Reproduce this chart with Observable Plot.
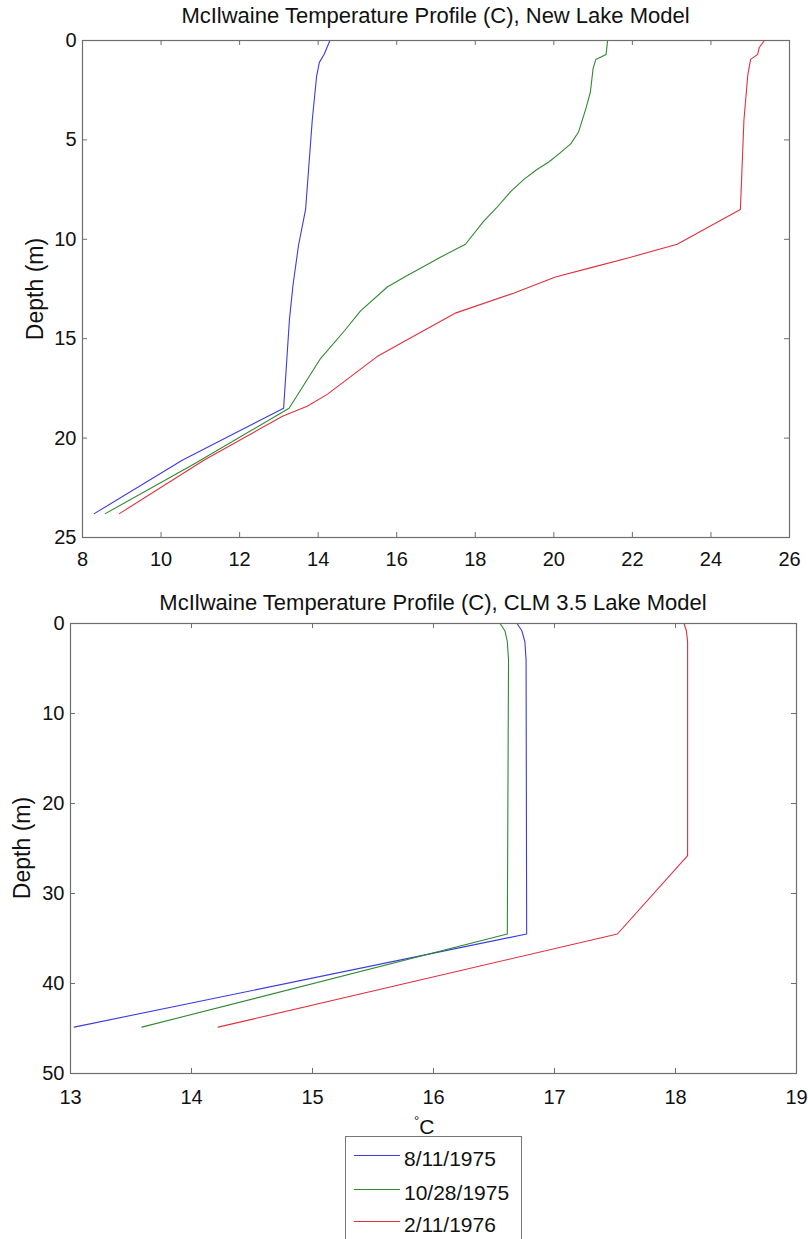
<!DOCTYPE html>
<html><head><meta charset="utf-8">
<script src="https://cdn.jsdelivr.net/npm/d3@7"></script>
<script src="https://cdn.jsdelivr.net/npm/@observablehq/plot@0.6"></script>
<style>
body{margin:0;background:#fff;font-family:"Liberation Sans",Arial,sans-serif;color:#111;}
#page{position:relative;width:808px;height:1239px;overflow:hidden;background:#fff;}
#page svg{position:absolute;left:0;}
.title{position:absolute;left:0;text-align:center;font-size:22px;line-height:22px;white-space:nowrap;}
.ylab{position:absolute;font-size:23px;line-height:23px;white-space:nowrap;transform:translate(-50%,-50%) rotate(-90deg);}
.legend{position:absolute;left:345px;top:1136px;width:175px;height:130px;border:1px solid #777;background:#fff;}
.lrow{position:absolute;left:0;width:175px;}
.lline{position:absolute;left:8px;width:46px;height:0;border-top:1.2px solid;}
.ltext{position:absolute;left:58px;font-size:21px;line-height:21px;white-space:nowrap;}
</style></head><body><div id="page"></div>
<script>
// ---- Data ----
const series = ["8/11/1975", "10/28/1975", "2/11/1976"];
const colors = ["#3b3be0", "#2f8a2f", "#e0303e"];

// New Lake Model
const newDepthBlue  = [0, 0.7, 1.1, 1.8, 4.0, 8.5, 10.3, 12.3, 14.0, 18.5, 21.1, 23.8];
const newTempBlue   = [14.30, 14.15, 14.03, 13.96, 13.85, 13.68, 13.50, 13.36, 13.27, 13.12, 10.55, 8.30];
const newDepthGreen = [0, 0.7, 0.95, 1.4, 2.6, 3.4, 4.6, 5.2, 5.7, 6.1, 6.5, 7.0, 7.6, 8.4, 9.1, 10.25, 10.85, 11.9, 12.4, 13.6, 14.6, 16.0, 18.5, 21.3, 23.8];
const newTempGreen  = [21.37, 21.33, 21.07, 21.0, 20.93, 20.82, 20.63, 20.43, 20.13, 19.88, 19.56, 19.23, 18.90, 18.55, 18.21, 17.75, 17.16, 16.20, 15.76, 15.08, 14.67, 14.06, 13.26, 10.84, 8.58];
const newDepthRed   = [0, 0.35, 0.7, 0.95, 1.7, 4.0, 8.5, 10.25, 10.9, 11.4, 11.9, 12.7, 13.7, 14.6, 15.9, 17.8, 18.4, 18.9, 21.1, 23.8];
const newTempRed    = [25.36, 25.23, 25.19, 25.01, 24.94, 24.84, 24.75, 23.14, 21.96, 21.0, 20.04, 18.99, 17.51, 16.68, 15.5, 14.23, 13.72, 13.09, 11.10, 8.94];

// CLM 3.5 Lake Model
const clmDepthBlue  = [0, 0.8, 2, 4, 34.5, 44.85];
const clmTempBlue   = [16.69, 16.73, 16.755, 16.765, 16.77, 13.03];
const clmDepthGreen = [0, 0.8, 2, 4, 34.5, 44.85];
const clmTempGreen  = [16.55, 16.59, 16.61, 16.62, 16.61, 13.59];
const clmDepthRed   = [0, 0.8, 2, 25.8, 34.5, 44.85];
const clmTempRed    = [18.07, 18.09, 18.10, 18.10, 17.52, 14.22];

// Axis ticks
const newXTicks = [8, 10, 12, 14, 16, 18, 20, 22, 24, 26];
const newYTicks = [0, 5, 10, 15, 20, 25];
const clmXTicks = [13, 14, 15, 16, 17, 18, 19];
const clmYTicks = [0, 10, 20, 30, 40, 50];

const titles = ["McIlwaine Temperature Profile (C), New Lake Model", "McIlwaine Temperature Profile (C), CLM 3.5 Lake Model"];
const yLabel = "Depth (m)";

// ---- Build tables ----
function table(groups) {
  const rows = [];
  groups.forEach(([name, depths, temps]) => depths.forEach((d, i) => rows.push({series: name, depth: d, temp: temps[i]})));
  return rows;
}
const newData = table([[series[0], newDepthBlue, newTempBlue], [series[1], newDepthGreen, newTempGreen], [series[2], newDepthRed, newTempRed]]);
const clmData = table([[series[0], clmDepthBlue, clmTempBlue], [series[1], clmDepthGreen, clmTempGreen], [series[2], clmDepthRed, clmTempRed]]);

const axisColor = "#6e6e6e";
function panel({data, xTicks, yTicks, width, height, mt, mb, ml, mr, padX}) {
  const fw = width - ml - mr, fh = height - mt - mb;
  return Plot.plot({
    width, height, marginTop: mt, marginBottom: mb, marginLeft: ml, marginRight: mr,
    style: {fontFamily: "'Liberation Sans', Arial, sans-serif", fontSize: "20px", color: "#111", background: "transparent", overflow: "visible"},
    x: {domain: [xTicks[0], xTicks[xTicks.length - 1]], label: null},
    y: {domain: [yTicks[0], yTicks[yTicks.length - 1]], reverse: true, label: null},
    color: {domain: series, range: colors},
    marks: [
      Plot.line(data, {x: "temp", y: "depth", z: "series", stroke: "series", strokeWidth: 1.1}),
      Plot.frame({stroke: axisColor, strokeWidth: 1.2}),
      Plot.tickX(xTicks, {x: d => d, stroke: axisColor, insetBottom: fh - 5}),
      Plot.tickX(xTicks, {x: d => d, stroke: axisColor, insetTop: fh - 5}),
      Plot.tickY(yTicks, {y: d => d, stroke: axisColor, insetRight: fw - 5}),
      Plot.tickY(yTicks, {y: d => d, stroke: axisColor, insetLeft: fw - 5}),
      Plot.axisX(xTicks, {anchor: "bottom", tickSize: 0, tickPadding: padX, label: null, fill: "#111", tickFormat: d => String(d)}),
      Plot.axisY(yTicks, {anchor: "left", tickSize: 0, tickPadding: 6, label: null, fill: "#111", tickFormat: d => String(d)})
    ]
  });
}

const page = document.getElementById("page");

const top1 = panel({data: newData, xTicks: newXTicks, yTicks: newYTicks, width: 808, height: 582, mt: 40, mb: 45, ml: 82, mr: 19, padX: 14});
top1.style.top = "0px";
page.appendChild(top1);

const bot = panel({data: clmData, xTicks: clmXTicks, yTicks: clmYTicks, width: 808, height: 543, mt: 43, mb: 50, ml: 70, mr: 12, padX: 16});
bot.style.top = "580px";
page.appendChild(bot);

function addDiv(cls, text, css) {
  const d = document.createElement("div");
  d.className = cls; d.textContent = text;
  Object.assign(d.style, css);
  page.appendChild(d);
  return d;
}
addDiv("title", titles[0], {width: "871px", top: "5px"});
addDiv("title", titles[1], {width: "866px", top: "592px"});
addDiv("ylab", yLabel, {left: "35px", top: "289px"});
addDiv("ylab", yLabel, {left: "22px", top: "848px"});

// x label (°C) for lower panel
const xl = document.createElement("div");
xl.style.cssText = "position:absolute;left:414px;top:1110px;font-size:21px;line-height:21px;white-space:nowrap;";
xl.innerHTML = '<span style="font-size:13px;vertical-align:9px;">°</span><span>C</span>';
page.appendChild(xl);

// legend
const leg = document.createElement("div");
leg.className = "legend";
page.appendChild(leg);
const rowY = [18, 52, 84];
series.forEach((s, i) => {
  const r = document.createElement("div");
  r.className = "lrow"; r.style.top = rowY[i] + "px";
  const ln = document.createElement("div"); ln.className = "lline"; ln.style.borderTopColor = colors[i]; ln.style.top = "0px";
  const tx = document.createElement("div"); tx.className = "ltext"; tx.textContent = s; tx.style.top = "-7px";
  r.appendChild(ln); r.appendChild(tx); leg.appendChild(r);
});
</script></body></html>
